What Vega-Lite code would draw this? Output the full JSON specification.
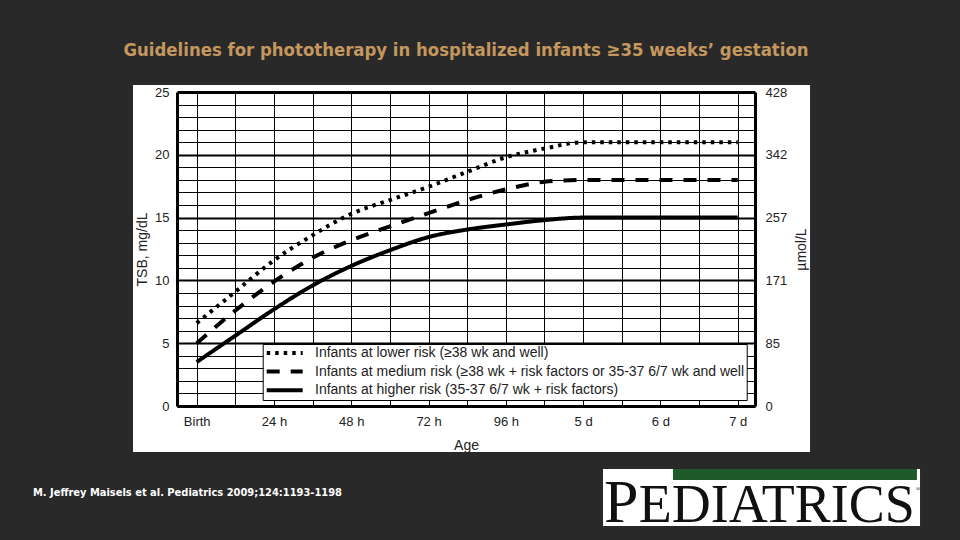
{
  "$schema": "https://vega.github.io/schema/vega-lite/v6.json",
  "width": 578,
  "height": 314,
  "autosize": {"type": "none"},
  "padding": {"left": 177, "top": 92, "right": 205, "bottom": 134},
  "background": "#292929",
  "title": {
    "text": "Guidelines for phototherapy in hospitalized infants ≥35 weeks’ gestation",
    "color": "#c4975e",
    "font": "DejaVu Sans Condensed, Liberation Sans",
    "fontSize": 18.4,
    "fontWeight": "bold",
    "anchor": "middle",
    "frame": "group",
    "offset": 26
  },
  "datasets": {
    "curves": [
      {"risk": "Infants at lower risk (≥38 wk and well)", "age": 0, "tsb": 6.6},
      {"risk": "Infants at lower risk (≥38 wk and well)", "age": 12, "tsb": 9.1},
      {"risk": "Infants at lower risk (≥38 wk and well)", "age": 24, "tsb": 11.6},
      {"risk": "Infants at lower risk (≥38 wk and well)", "age": 36, "tsb": 13.6},
      {"risk": "Infants at lower risk (≥38 wk and well)", "age": 48, "tsb": 15.3},
      {"risk": "Infants at lower risk (≥38 wk and well)", "age": 60, "tsb": 16.4},
      {"risk": "Infants at lower risk (≥38 wk and well)", "age": 72, "tsb": 17.45},
      {"risk": "Infants at lower risk (≥38 wk and well)", "age": 84, "tsb": 18.65},
      {"risk": "Infants at lower risk (≥38 wk and well)", "age": 96, "tsb": 19.8},
      {"risk": "Infants at lower risk (≥38 wk and well)", "age": 108, "tsb": 20.5},
      {"risk": "Infants at lower risk (≥38 wk and well)", "age": 120, "tsb": 21.0},
      {"risk": "Infants at lower risk (≥38 wk and well)", "age": 144, "tsb": 21.0},
      {"risk": "Infants at lower risk (≥38 wk and well)", "age": 168, "tsb": 21.0},
      {"risk": "Infants at medium risk (≥38 wk + risk factors or 35-37 6/7 wk and well", "age": 0, "tsb": 5.0},
      {"risk": "Infants at medium risk (≥38 wk + risk factors or 35-37 6/7 wk and well", "age": 12, "tsb": 7.6},
      {"risk": "Infants at medium risk (≥38 wk + risk factors or 35-37 6/7 wk and well", "age": 24, "tsb": 9.9},
      {"risk": "Infants at medium risk (≥38 wk + risk factors or 35-37 6/7 wk and well", "age": 36, "tsb": 11.8},
      {"risk": "Infants at medium risk (≥38 wk + risk factors or 35-37 6/7 wk and well", "age": 48, "tsb": 13.2},
      {"risk": "Infants at medium risk (≥38 wk + risk factors or 35-37 6/7 wk and well", "age": 60, "tsb": 14.3},
      {"risk": "Infants at medium risk (≥38 wk + risk factors or 35-37 6/7 wk and well", "age": 72, "tsb": 15.35},
      {"risk": "Infants at medium risk (≥38 wk + risk factors or 35-37 6/7 wk and well", "age": 84, "tsb": 16.4},
      {"risk": "Infants at medium risk (≥38 wk + risk factors or 35-37 6/7 wk and well", "age": 96, "tsb": 17.25},
      {"risk": "Infants at medium risk (≥38 wk + risk factors or 35-37 6/7 wk and well", "age": 108, "tsb": 17.85},
      {"risk": "Infants at medium risk (≥38 wk + risk factors or 35-37 6/7 wk and well", "age": 120, "tsb": 18.0},
      {"risk": "Infants at medium risk (≥38 wk + risk factors or 35-37 6/7 wk and well", "age": 144, "tsb": 18.0},
      {"risk": "Infants at medium risk (≥38 wk + risk factors or 35-37 6/7 wk and well", "age": 168, "tsb": 18.0},
      {"risk": "Infants at higher risk (35-37 6/7 wk + risk factors)", "age": 0, "tsb": 3.5},
      {"risk": "Infants at higher risk (35-37 6/7 wk + risk factors)", "age": 12, "tsb": 5.6},
      {"risk": "Infants at higher risk (35-37 6/7 wk + risk factors)", "age": 24, "tsb": 7.7},
      {"risk": "Infants at higher risk (35-37 6/7 wk + risk factors)", "age": 36, "tsb": 9.6},
      {"risk": "Infants at higher risk (35-37 6/7 wk + risk factors)", "age": 48, "tsb": 11.15},
      {"risk": "Infants at higher risk (35-37 6/7 wk + risk factors)", "age": 60, "tsb": 12.4},
      {"risk": "Infants at higher risk (35-37 6/7 wk + risk factors)", "age": 72, "tsb": 13.45},
      {"risk": "Infants at higher risk (35-37 6/7 wk + risk factors)", "age": 84, "tsb": 14.05},
      {"risk": "Infants at higher risk (35-37 6/7 wk + risk factors)", "age": 96, "tsb": 14.45},
      {"risk": "Infants at higher risk (35-37 6/7 wk + risk factors)", "age": 108, "tsb": 14.8},
      {"risk": "Infants at higher risk (35-37 6/7 wk + risk factors)", "age": 120, "tsb": 15.0},
      {"risk": "Infants at higher risk (35-37 6/7 wk + risk factors)", "age": 144, "tsb": 15.0},
      {"risk": "Infants at higher risk (35-37 6/7 wk + risk factors)", "age": 168, "tsb": 15.0}
    ]
  },
  "layer": [
    {
      "data": {"values": [{}]},
      "mark": {"type": "rect", "fill": "white", "stroke": null},
      "encoding": {
        "x": {"datum": -19.78, "type": "quantitative", "scale": {"domain": [-6.12, 173.38], "nice": false, "zero": false}, "axis": null},
        "x2": {"datum": 190.47},
        "y": {
          "datum": 25.56, "type": "quantitative",
          "scale": {"domain": [0, 25], "nice": false, "zero": false},
          "axis": {
            "orient": "right",
            "values": [0, 5, 10, 15, 20, 25],
            "labelExpr": "datum.value === 0 ? '0' : datum.value === 5 ? '85' : datum.value === 10 ? '171' : datum.value === 15 ? '257' : datum.value === 20 ? '342' : '428'",
            "grid": false,
            "ticks": false,
            "domain": true,
            "domainColor": "black",
            "domainWidth": 3,
            "labelPadding": 10,
            "labelFontSize": 13,
            "labelColor": "#222",
            "labelFont": "Liberation Sans",
            "title": "µmol/L",
            "titleAngle": -90,
            "titleFontSize": 14,
            "titleFontWeight": "normal",
            "titleColor": "#222",
            "titleFont": "Liberation Sans",
            "titlePadding": 22,
            "zindex": 1
          }
        },
        "y2": {"datum": -3.66}
      }
    },
    {
      "data": {"name": "curves"},
      "mark": {"type": "line", "color": "black", "strokeWidth": 4, "interpolate": "monotone"},
      "encoding": {
        "x": {
          "field": "age", "type": "quantitative",
          "scale": {"domain": [-6.12, 173.38], "nice": false, "zero": false},
          "axis": {
            "orient": "bottom",
            "values": [0, 12, 24, 36, 48, 60, 72, 84, 96, 108, 120, 132, 144, 156, 168],
            "labelExpr": "datum.value === 0 ? 'Birth' : datum.value % 24 !== 0 ? '' : datum.value <= 96 ? datum.value + ' h' : (datum.value / 24) + ' d'",
            "grid": true,
            "gridColor": "black",
            "gridWidth": 1,
            "gridOpacity": 1,
            "ticks": false,
            "domain": true,
            "domainColor": "black",
            "domainWidth": 3,
            "labelPadding": 9,
            "labelFontSize": 13,
            "labelColor": "#222",
            "labelFont": "Liberation Sans",
            "title": "Age",
            "titleFontSize": 14,
            "titleFontWeight": "normal",
            "titleColor": "#222",
            "titleFont": "Liberation Sans",
            "titlePadding": 10,
            "zindex": 1
          }
        },
        "y": {
          "field": "tsb", "type": "quantitative",
          "scale": {"domain": [0, 25], "nice": false, "zero": false},
          "axis": {
            "orient": "left",
            "values": [0, 1, 2, 3, 4, 5, 6, 7, 8, 9, 10, 11, 12, 13, 14, 15, 16, 17, 18, 19, 20, 21, 22, 23, 24, 25],
            "labelExpr": "datum.value % 5 === 0 ? datum.label : ''",
            "grid": true,
            "gridColor": "black",
            "gridOpacity": 1,
            "gridWidth": {"condition": [{"test": "datum.value === 25", "value": 3}, {"test": "datum.value % 5 === 0", "value": 2}], "value": 1},
            "ticks": false,
            "domain": true,
            "domainColor": "black",
            "domainWidth": 3,
            "labelPadding": 8,
            "labelFontSize": 13,
            "labelColor": "#222",
            "labelFont": "Liberation Sans",
            "title": "TSB, mg/dL",
            "titleFontSize": 14,
            "titleFontWeight": "normal",
            "titleColor": "#222",
            "titleFont": "Liberation Sans",
            "titlePadding": 5,
            "zindex": 1
          }
        },
        "strokeDash": {
          "field": "risk", "type": "nominal",
          "scale": {
            "domain": [
              "Infants at lower risk (≥38 wk and well)",
              "Infants at medium risk (≥38 wk + risk factors or 35-37 6/7 wk and well",
              "Infants at higher risk (35-37 6/7 wk + risk factors)"
            ],
            "range": [[3.5, 5], [13, 11], [1, 0]]
          },
          "legend": {
            "title": null,
            "orient": "none",
            "legendX": 85.7,
            "legendY": 252,
            "fillColor": "white",
            "strokeColor": "black",
            "padding": 2,
            "symbolType": "stroke",
            "symbolSize": 1296,
            "symbolStrokeWidth": 4,
            "symbolStrokeColor": "black",
            "clipHeight": 14,
            "rowPadding": 4.6,
            "labelOffset": 10.3,
            "labelFontSize": 14,
            "labelFont": "Liberation Sans",
            "labelColor": "#222",
            "labelLimit": 600,
            "zindex": 2
          }
        }
      }
    },
    {
      "data": {"values": [{}]},
      "mark": {"type": "text", "text": "M. Jeffrey Maisels et al. Pediatrics 2009;124:1193-1198", "align": "left", "baseline": "middle", "color": "white", "fontWeight": "bold", "fontSize": 11, "font": "DejaVu Sans Condensed, Liberation Sans"},
      "encoding": {
        "x": {"datum": -50.84, "type": "quantitative", "scale": {"domain": [-6.12, 173.38], "nice": false, "zero": false}, "axis": null},
        "y": {"datum": -6.93, "type": "quantitative", "scale": {"domain": [0, 25], "nice": false, "zero": false}, "axis": null}
      }
    },
    {
      "data": {"values": [{}]},
      "mark": {"type": "rect", "fill": "white", "stroke": null},
      "encoding": {
        "x": {"datum": 126.18, "type": "quantitative", "scale": {"domain": [-6.12, 173.38], "nice": false, "zero": false}, "axis": null},
        "x2": {"datum": 224.63},
        "y": {"datum": -5.02, "type": "quantitative", "scale": {"domain": [0, 25], "nice": false, "zero": false}, "axis": null},
        "y2": {"datum": -9.55}
      }
    },
    {
      "data": {"values": [{}]},
      "mark": {"type": "rect", "fill": "#1f5a2b", "stroke": null},
      "encoding": {
        "x": {"datum": 147.92, "type": "quantitative", "scale": {"domain": [-6.12, 173.38], "nice": false, "zero": false}, "axis": null},
        "x2": {"datum": 223.67},
        "y": {"datum": -5.02, "type": "quantitative", "scale": {"domain": [0, 25], "nice": false, "zero": false}, "axis": null},
        "y2": {"datum": -5.89}
      }
    },
    {
      "data": {"values": [{}]},
      "mark": {"type": "text", "text": "P", "align": "left", "baseline": "alphabetic", "color": "#111", "fontSize": 62, "font": "Liberation Serif"},
      "encoding": {
        "x": {"datum": 126.5, "type": "quantitative", "scale": {"domain": [-6.12, 173.38], "nice": false, "zero": false}, "axis": null},
        "y": {"datum": -9.24, "type": "quantitative", "scale": {"domain": [0, 25], "nice": false, "zero": false}, "axis": null}
      }
    },
    {
      "data": {"values": [{}]},
      "mark": {"type": "text", "text": "EDIATRICS", "align": "left", "baseline": "alphabetic", "color": "#111", "fontSize": 54, "font": "Liberation Serif"},
      "encoding": {
        "x": {"datum": 137.3, "type": "quantitative", "scale": {"domain": [-6.12, 173.38], "nice": false, "zero": false}, "axis": null},
        "y": {"datum": -9.24, "type": "quantitative", "scale": {"domain": [0, 25], "nice": false, "zero": false}, "axis": null}
      }
    },
    {
      "data": {"values": [{}]},
      "mark": {"type": "text", "text": "®", "align": "left", "baseline": "middle", "color": "#111", "fontSize": 7, "font": "Liberation Serif"},
      "encoding": {
        "x": {"datum": 223.3, "type": "quantitative", "scale": {"domain": [-6.12, 173.38], "nice": false, "zero": false}, "axis": null},
        "y": {"datum": -6.6, "type": "quantitative", "scale": {"domain": [0, 25], "nice": false, "zero": false}, "axis": null}
      }
    }
  ],
  "resolve": {"axis": {"x": "independent", "y": "independent"}},
  "config": {"view": {"stroke": null}, "font": "Liberation Sans"}
}
